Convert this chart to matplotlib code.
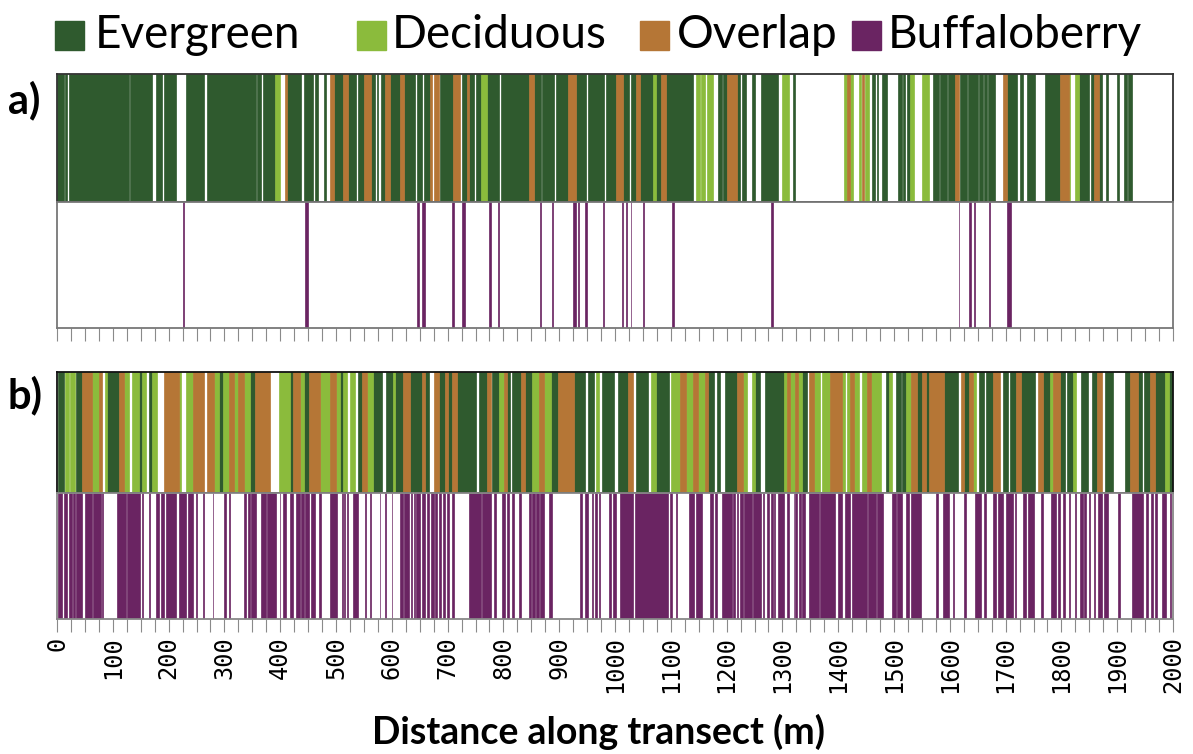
import matplotlib.pyplot as plt
from matplotlib.patches import Rectangle
from matplotlib.ticker import MultipleLocator

# class colours
EVERGREEN = "#2F5A2E"
DECIDUOUS = "#8BBB3C"
OVERLAP = "#B57636"
BUFFALO = "#6A2462"

# segments along the transect (m): (start, end)
# --- panel a ---
a_evergreen = [
    (0, 12), (14, 18), (22, 129), (131, 171), (177, 189), (191, 214), (231, 264),
    (268, 357), (359, 366), (370, 390), (412, 438), (442, 459), (462, 468),
    (478, 482), (496, 512), (522, 536), (539, 550), (562, 570), (573, 576),
    (580, 588), (596, 615), (622, 642), (645, 654), (657, 669), (687, 709),
    (726, 735), (738, 747), (750, 759), (771, 793), (796, 845), (855, 867),
    (870, 891), (894, 915), (931, 948), (951, 981), (984, 1002), (1014, 1025),
    (1029, 1038), (1044, 1068), (1073, 1083), (1091, 1139), (1185, 1191),
    (1194, 1201), (1218, 1224), (1227, 1235), (1245, 1251), (1261, 1293),
    (1319, 1322), (1460, 1466), (1469, 1472), (1479, 1487), (1508, 1514),
    (1517, 1520), (1523, 1529), (1569, 1580), (1582, 1595), (1597, 1610),
    (1619, 1630), (1633, 1650), (1653, 1659), (1662, 1667), (1669, 1681),
    (1702, 1720), (1726, 1732), (1739, 1752), (1770, 1798), (1831, 1849),
    (1853, 1859), (1867, 1872), (1880, 1884), (1899, 1903), (1913, 1918),
    (1920, 1927),
]
a_deciduous = [
    (390, 399), (759, 771), (1068, 1073), (1145, 1152), (1155, 1161),
    (1164, 1176), (1299, 1311), (1411, 1416), (1422, 1426), (1437, 1440),
    (1448, 1455), (1529, 1535), (1550, 1562), (1813, 1816), (1825, 1831),
]
a_overlap = [
    (408, 412), (489, 496), (512, 522), (550, 562), (588, 596), (615, 622),
    (669, 672), (675, 684), (709, 723), (735, 738), (845, 855), (915, 931),
    (1002, 1014), (1038, 1044), (1083, 1091), (1201, 1218), (1416, 1422),
    (1442, 1446), (1610, 1616), (1696, 1702), (1798, 1813), (1859, 1867),
]
a_buffalo = [
    (226, 227), (444, 449), (645, 648), (655, 660), (708, 711), (726, 731),
    (774, 778), (791, 792), (865, 868), (887, 888), (925, 930), (933, 936),
    (947, 950), (978, 981), (1012, 1015), (1019, 1022), (1028, 1029),
    (1051, 1052), (1102, 1105), (1280, 1283), (1616, 1617), (1634, 1638),
    (1644, 1645), (1671, 1672), (1702, 1710),
]

# --- panel b ---
b_evergreen = [
    (2, 12), (34, 44), (90, 111), (147, 152), (165, 171), (291, 297), (345, 354),
    (417, 423), (442, 452), (507, 513), (540, 546), (566, 582), (590, 603),
    (606, 620), (633, 654), (660, 667), (684, 696), (701, 708), (716, 751),
    (756, 771), (780, 792), (807, 811), (816, 831), (839, 852), (885, 897),
    (927, 947), (951, 963), (977, 999), (1005, 1023), (1038, 1059),
    (1074, 1097), (1167, 1177), (1182, 1189), (1197, 1218), (1251, 1260),
    (1269, 1302), (1335, 1344), (1485, 1491), (1503, 1512), (1515, 1521),
    (1542, 1551), (1557, 1563), (1590, 1614), (1626, 1634), (1652, 1662),
    (1665, 1677), (1695, 1704), (1707, 1719), (1728, 1752), (1767, 1779),
    (1797, 1806), (1810, 1821), (1836, 1848), (1854, 1863), (1878, 1893),
    (1914, 1923), (1938, 1944), (1948, 1959), (1968, 1986), (1992, 2000),
]
b_deciduous = [
    (15, 21), (24, 32), (62, 75), (86, 90), (120, 129), (135, 147), (152, 159),
    (171, 180), (219, 222), (231, 243), (282, 291), (297, 309), (318, 324),
    (336, 345), (398, 417), (435, 442), (471, 489), (500, 507), (513, 519),
    (525, 534), (555, 566), (603, 606), (792, 801), (852, 864), (873, 885),
    (966, 972), (1065, 1074), (1101, 1116), (1128, 1140), (1149, 1161),
    (1230, 1237), (1245, 1251), (1302, 1308), (1314, 1323), (1328, 1335),
    (1356, 1368), (1371, 1386), (1407, 1412), (1416, 1422), (1428, 1437),
    (1442, 1452), (1458, 1476), (1491, 1497), (1521, 1530), (1641, 1647),
    (1779, 1785), (1821, 1827), (1986, 1992),
]
b_overlap = [
    (44, 62), (75, 81), (111, 120), (192, 219), (243, 264), (268, 282),
    (309, 318), (324, 336), (354, 381), (423, 435), (452, 471), (489, 500),
    (546, 555), (620, 633), (654, 660), (675, 684), (696, 701), (708, 716),
    (771, 777), (801, 807), (831, 839), (864, 873), (897, 927), (1023, 1032),
    (1116, 1128), (1140, 1149), (1161, 1167), (1218, 1230), (1308, 1314),
    (1323, 1328), (1347, 1356), (1386, 1407), (1422, 1428), (1452, 1458),
    (1530, 1542), (1551, 1557), (1563, 1590), (1620, 1626), (1634, 1641),
    (1677, 1690), (1719, 1728), (1758, 1767), (1785, 1797), (1863, 1872),
    (1923, 1938), (1959, 1968),
]
b_buffalo = [
    (2, 9), (12, 18), (22, 26), (28, 33), (34, 45), (51, 62), (64, 78), (80, 82),
    (108, 123), (126, 148), (152, 154), (165, 166), (177, 182), (186, 191),
    (196, 214), (218, 231), (234, 243), (249, 250), (261, 264), (279, 280),
    (300, 302), (309, 310), (336, 339), (342, 345), (348, 357), (366, 375),
    (377, 392), (399, 400), (405, 411), (417, 423), (429, 435), (438, 442),
    (444, 452), (456, 462), (470, 474), (489, 501), (510, 512), (514, 517),
    (519, 522), (531, 540), (552, 553), (561, 562), (578, 579), (588, 590),
    (600, 601), (614, 620), (622, 631), (634, 636), (639, 642), (644, 650),
    (654, 660), (663, 667), (671, 675), (678, 681), (684, 689), (691, 696),
    (699, 702), (708, 711), (738, 759), (762, 777), (783, 786), (798, 803),
    (807, 810), (816, 819), (828, 831), (846, 849), (852, 857), (859, 864),
    (865, 873), (882, 887), (937, 941), (947, 951), (959, 961), (965, 967),
    (971, 973), (990, 993), (997, 1001), (1009, 1033), (1036, 1095),
    (1098, 1103), (1109, 1111), (1133, 1141), (1145, 1156), (1171, 1175),
    (1179, 1182), (1191, 1209), (1211, 1215), (1218, 1221), (1224, 1229),
    (1231, 1245), (1248, 1261), (1265, 1267), (1272, 1276), (1279, 1283),
    (1285, 1287), (1293, 1302), (1308, 1311), (1320, 1321), (1323, 1326),
    (1329, 1334), (1336, 1341), (1347, 1365), (1368, 1395), (1400, 1407),
    (1413, 1422), (1425, 1452), (1454, 1467), (1470, 1480), (1497, 1503),
    (1506, 1515), (1521, 1527), (1530, 1548), (1575, 1578), (1588, 1599),
    (1605, 1608), (1626, 1629), (1646, 1656), (1662, 1665), (1677, 1683),
    (1686, 1695), (1700, 1713), (1716, 1719), (1731, 1737), (1740, 1750),
    (1764, 1767), (1782, 1790), (1794, 1797), (1803, 1806), (1814, 1816),
    (1824, 1827), (1834, 1838), (1840, 1844), (1850, 1852), (1858, 1860),
    (1866, 1872), (1876, 1884), (1902, 1905), (1926, 1946), (1952, 1956),
    (1960, 1964), (1968, 1971), (1980, 1988), (1994, 1996),
]

labels = ["Evergreen", "Deciduous", "Overlap", "Buffaloberry"]
colors = [EVERGREEN, DECIDUOUS, OVERLAP, BUFFALO]
tick_labels = [str(v) for v in range(0, 2001, 100)]

W, H = 1193, 754
fig = plt.figure(figsize=(W / 100, H / 100), dpi=100)


def axes_px(left, top, right, bottom):
    return fig.add_axes([left / W, 1 - bottom / H, (right - left) / W, (bottom - top) / H])


def draw(ax, segs, color):
    starts = [s for s, e in segs]
    widths = [e - s for s, e in segs]
    ax.bar(starts, 1, width=widths, align="edge", color=color,
           edgecolor=color, linewidth=0.5)


def style(ax, edge, bottom_ticks=False, show_labels=False):
    ax.set_xlim(0, 2000)
    ax.set_ylim(0, 1)
    ax.set_yticks([])
    for sp in ax.spines.values():
        sp.set_color(edge)
        sp.set_linewidth(1.3)
    if bottom_ticks:
        ax.xaxis.set_major_locator(MultipleLocator(100))
        ax.xaxis.set_minor_locator(MultipleLocator(25))
        ax.tick_params(axis="x", which="both", direction="out", length=9,
                       width=0.8, color="#8a8a8a")
        if show_labels:
            ax.set_xticks(range(0, 2001, 100))
            ax.set_xticklabels(tick_labels, rotation=90, va="top", ha="center",
                               family="DejaVu Sans Mono", fontsize=17)
        else:
            ax.set_xticklabels([])
    else:
        ax.set_xticks([])


ax_at = axes_px(57, 74, 1173, 202)
ax_ab = axes_px(57, 202, 1173, 328)
ax_bt = axes_px(57, 372, 1173, 493)
ax_bb = axes_px(57, 493, 1173, 619)

draw(ax_at, a_evergreen, EVERGREEN)
draw(ax_at, a_deciduous, DECIDUOUS)
draw(ax_at, a_overlap, OVERLAP)
draw(ax_ab, a_buffalo, BUFFALO)
draw(ax_bt, b_evergreen, EVERGREEN)
draw(ax_bt, b_deciduous, DECIDUOUS)
draw(ax_bt, b_overlap, OVERLAP)
draw(ax_bb, b_buffalo, BUFFALO)

style(ax_at, "#333333")
style(ax_ab, "#777777", bottom_ticks=True)
style(ax_bt, "#111111")
style(ax_bb, "#888888", bottom_ticks=True, show_labels=True)

# legend laid out by hand across the top
square_left = [55, 357, 640, 852]
text_left = [95, 392, 677, 888]
for sx, tx, lab, col in zip(square_left, text_left, labels, colors):
    fig.patches.append(Rectangle((sx / W, 1 - 50 / H), 29 / W, 29 / H,
                                 transform=fig.transFigure, color=col))
    fig.text(tx / W, 1 - 35 / H, lab, fontsize=33, family="Lato",
             va="center", ha="left")

fig.text(8 / W, 1 - 100 / H, "a)", fontsize=30, fontweight="bold",
         family="Lato", va="center", ha="left")
fig.text(8 / W, 1 - 395 / H, "b)", fontsize=30, fontweight="bold",
         family="Lato", va="center", ha="left")
fig.text(598 / W, 1 - 732 / H, "Distance along transect (m)", fontsize=27,
         fontweight="bold", family="Lato", va="center", ha="center")

fig.savefig("out.png", dpi=100)
